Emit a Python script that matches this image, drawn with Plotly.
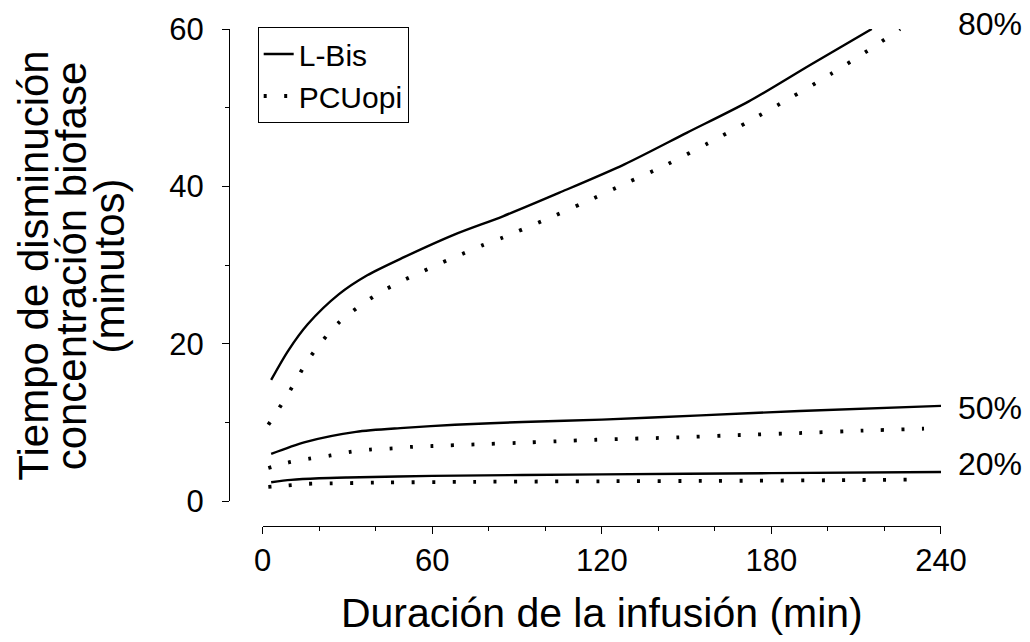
import plotly.graph_objects as go

# ---- data ----
lbis80_x = [3, 9, 16, 27, 37, 50, 68, 85, 105, 128, 150, 172, 194, 215.5]
lbis80_y = [15.4, 19.1, 22.5, 26.3, 28.7, 31.0, 33.9, 36.2, 39.2, 42.8, 46.8, 50.8, 55.5, 60.0]

pcu80_x = [2, 6.7, 11.1, 15.3, 20.5, 27, 34.3, 41.5, 48.8, 56, 63.4, 70.5, 77.7, 85,
           99.6, 114.1, 128.6, 143.1, 157.7, 172.2, 186.5, 201.1, 215.6, 225.5]
pcu80_y = [9.7, 12.3, 14.9, 17.5, 20.1, 22.7, 24.8, 26.5, 27.9, 29.1, 30.3, 31.4, 32.5, 33.5,
           35.7, 38.0, 40.4, 42.8, 45.5, 48.3, 51.2, 54.3, 57.6, 60.0]

lbis50_x = [3, 15, 33, 50, 68, 92, 120, 155, 190, 240]
lbis50_y = [6.0, 7.5, 8.8, 9.3, 9.7, 10.05, 10.35, 10.9, 11.45, 12.1]

pcu50_x = [2, 9, 16.5, 24, 31, 38, 46, 53, 60, 75, 90, 104, 118, 147, 169, 190, 212, 234]
pcu50_y = [4.2, 4.9, 5.4, 5.8, 6.25, 6.55, 6.7, 6.9, 7.0, 7.2, 7.4, 7.6, 7.8, 8.1, 8.4, 8.65, 8.95, 9.2]

lbis20_x = [3, 10, 20, 30, 60, 120, 180, 240]
lbis20_y = [2.4, 2.7, 2.9, 3.0, 3.2, 3.4, 3.55, 3.7]

pcu20_x = [2, 9, 16, 24, 40, 75, 120, 160, 200, 234]
pcu20_y = [1.8, 2.0, 2.2, 2.25, 2.35, 2.45, 2.52, 2.57, 2.65, 2.75]

series_names = ["L-Bis", "PCUopi"]
level_labels = ["80%", "50%", "20%"]
level_label_y = [60, 11.85, 4.7]
level_label_shift = [5, 0, 0]
x_ticks = [0, 60, 120, 180, 240]
y_ticks = [0, 20, 40, 60]
x_title = "Duración de la infusión (min)"
y_title_lines = ["Tiempo de disminución", "concentración biofase", "(minutos)"]

FONT = "Liberation Sans, Arial, sans-serif"

fig = go.Figure()

solid = dict(color="black", width=2.4)
dotted = dict(color="black", width=3.8, dash="3px,17.5px")

for i, (xs, ys) in enumerate([(lbis80_x, lbis80_y), (lbis50_x, lbis50_y), (lbis20_x, lbis20_y)]):
    fig.add_trace(go.Scatter(x=xs, y=ys, mode="lines", line=dict(solid, shape="spline", smoothing=0.8),
                             name=series_names[0], legendgroup="a", showlegend=(i == 0),
                             hoverinfo="skip"))
for i, (xs, ys) in enumerate([(pcu80_x, pcu80_y), (pcu50_x, pcu50_y), (pcu20_x, pcu20_y)]):
    fig.add_trace(go.Scatter(x=xs, y=ys, mode="lines", line=dict(dotted, shape="spline", smoothing=0.8),
                             name=series_names[1], legendgroup="b", showlegend=(i == 0),
                             hoverinfo="skip"))

annotations = []
for lab, yv, ys in zip(level_labels, level_label_y, level_label_shift):
    annotations.append(dict(x=240, y=yv, xref="x", yref="y", text=lab, showarrow=False,
                            xanchor="left", yanchor="middle", xshift=15, yshift=ys,
                            font=dict(family=FONT, size=32, color="black")))

y_title_x = [-0.2745, -0.2215, -0.168]
for txt, px in zip(y_title_lines, y_title_x):
    annotations.append(dict(x=px, y=0.523, xref="paper", yref="paper", text=txt, textangle=-90,
                            showarrow=False, xanchor="center", yanchor="middle",
                            font=dict(family=FONT, size=42, color="black")))

fig.update_layout(
    width=1030, height=642,
    margin=dict(l=229, r=89, t=27, b=116),
    paper_bgcolor="white", plot_bgcolor="white",
    font=dict(family=FONT, color="black"),
    showlegend=True,
    legend=dict(x=0.0403, y=1.004, xanchor="left", yanchor="top",
                bordercolor="black", borderwidth=1, bgcolor="white",
                font=dict(family=FONT, size=30, color="black"),
                tracegroupgap=0),
    annotations=annotations,
    xaxis=dict(domain=[0.0473, 1], range=[0, 240], anchor="free", position=0,
               tickvals=x_ticks, ticks="outside", ticklen=7, tickwidth=1, tickcolor="black",
               showline=True, linecolor="black", linewidth=1, showgrid=False, zeroline=False,
               tickfont=dict(family=FONT, size=31, color="black"),
               minor=dict(dtick=20, tick0=0, ticks="outside", ticklen=4, tickwidth=1,
                          tickcolor="black", showgrid=False),
               title=dict(text=x_title, font=dict(family=FONT, size=41, color="black"), standoff=21)),
    yaxis=dict(domain=[0.0501, 1], range=[0, 60], anchor="free", position=0,
               tickvals=y_ticks, ticks="outside", ticklen=7, tickwidth=1, tickcolor="black",
               showline=True, linecolor="black", linewidth=1, showgrid=False, zeroline=False,
               tickfont=dict(family=FONT, size=31, color="black"), ticklabelstandoff=12,
               minor=dict(dtick=10, tick0=0, ticks="outside", ticklen=4, tickwidth=1,
                          tickcolor="black", showgrid=False)),
)

fig.write_html("out.html")
